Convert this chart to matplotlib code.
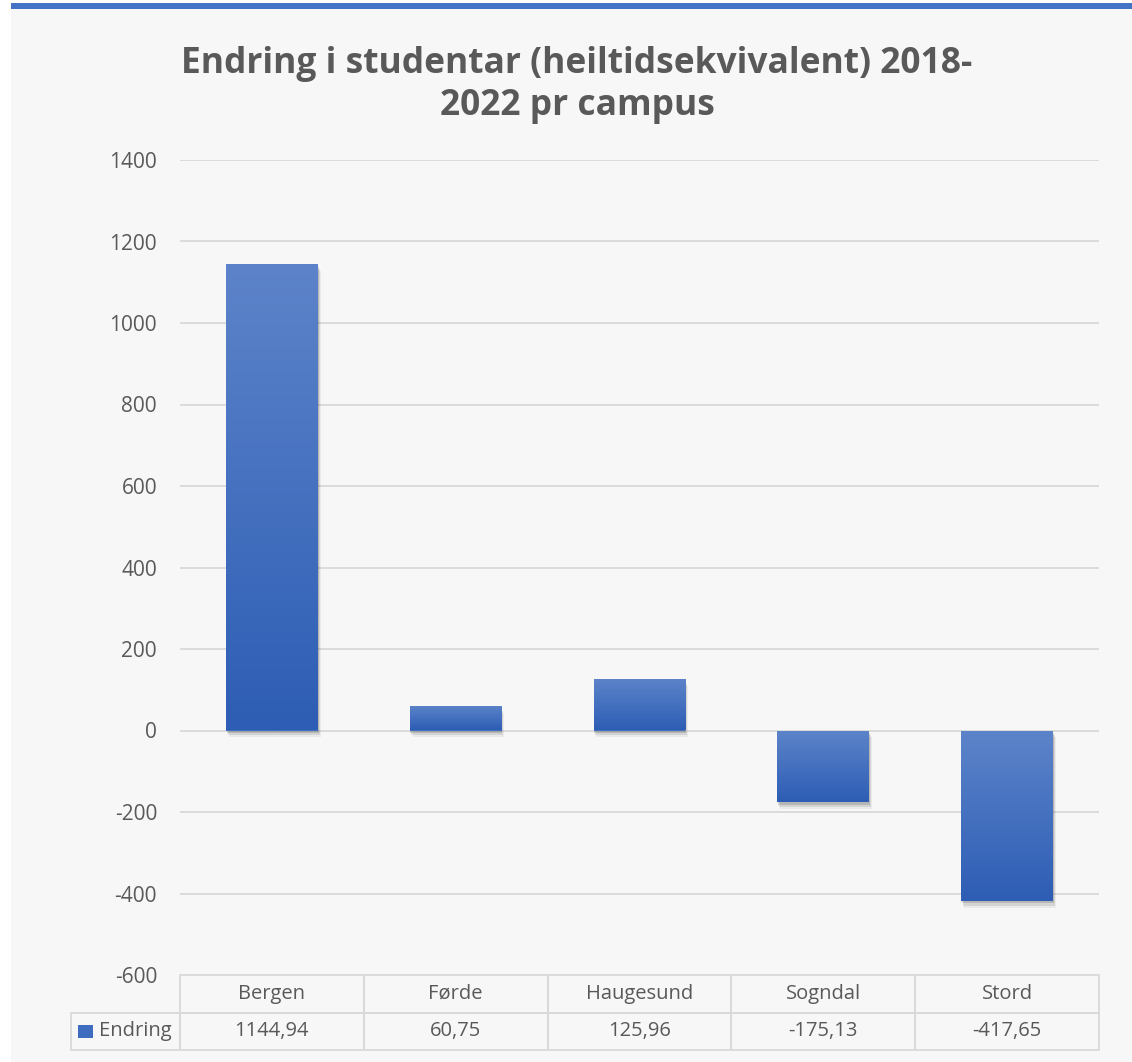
import matplotlib
matplotlib.use("Agg")
import matplotlib.pyplot as plt
import numpy as np
from matplotlib.patches import Rectangle
from matplotlib.colors import LinearSegmentedColormap
from matplotlib.transforms import blended_transform_factory
import matplotlib.patheffects as pe

categories = ["Bergen", "Førde", "Haugesund", "Sogndal", "Stord"]
values = [1144.94, 60.75, 125.96, -175.13, -417.65]
series_name = "Endring"
yticks = [-600, -400, -200, 0, 200, 400, 600, 800, 1000, 1200, 1400]
title = "Endring i studentar (heiltidsekvivalent) 2018-\n2022 pr campus"

TXT = "#595959"
GRID = "#D9D9D9"
BG = "#F7F7F7"
W, H = 1132, 1062

plt.rcParams["font.family"] = ["Open Sans", "DejaVu Sans"]

fig = plt.figure(figsize=(W / 100, H / 100), dpi=100, facecolor="white")
fig.patches.append(Rectangle((11 / W, 0), 1 - 11 / W, 1 - 9 / H, transform=fig.transFigure,
                             facecolor=BG, edgecolor="none", zorder=-10))
fig.patches.append(Rectangle((11 / W, 1 - 9 / H), 1 - 11 / W, 6 / H, transform=fig.transFigure,
                             facecolor="#4472C4", edgecolor="none", zorder=-9))

AX_L, AX_R, AX_T, AX_B = 180, 1099, 160, 975
ax = fig.add_axes([AX_L / W, 1 - AX_B / H, (AX_R - AX_L) / W, (AX_B - AX_T) / H])
ax.set_facecolor("none")
axw, axh = AX_R - AX_L, AX_B - AX_T

x = np.arange(len(categories))
bars = ax.bar(x, values, width=0.5, color="#4170C2", zorder=3)

cmap = LinearSegmentedColormap.from_list("g", ["#2D5DB4", "#5D84CA"])
grad = np.linspace(0, 1, 256).reshape(-1, 1)
for b in bars:
    bx, by = b.get_x(), b.get_y()
    bw, bh = b.get_width(), b.get_height()
    y0, y1 = min(by, by + bh), max(by, by + bh)
    b.set_path_effects([
        pe.SimplePatchShadow(offset=(2, -5), shadow_rgbFace="black", alpha=0.05),
        pe.SimplePatchShadow(offset=(1.2, -3.5), shadow_rgbFace="black", alpha=0.09),
        pe.SimplePatchShadow(offset=(0.5, -2), shadow_rgbFace="black", alpha=0.14),
        pe.Normal(),
    ])
    im = ax.imshow(grad, cmap=cmap, origin="lower", aspect="auto",
                   extent=(bx, bx + bw, y0, y1), zorder=4, interpolation="bilinear")
    im.set_clip_path(b)

ax.set_xlim(-0.5, len(categories) - 0.5)
ax.set_ylim(-600, 1400)
ax.set_yticks(yticks)
ax.set_yticklabels([str(t) for t in yticks])
ax.set_xticks([])
ax.tick_params(axis="y", length=0, pad=16.5, labelsize=15, labelcolor=TXT)
for t in yticks:
    if t != -600:
        ax.axhline(t, color=GRID, lw=1.3, zorder=1)
for s in ax.spines.values():
    s.set_visible(False)

# ---- data table under the plot ----
fmt = [f"{v:.2f}".replace(".", ",") for v in values]
row_h = 37.5 / axh
blend = blended_transform_factory(ax.transData, ax.transAxes)
tkw = dict(ha="center", va="center", fontsize=14.5, color=TXT, clip_on=False)
ckw = dict(facecolor="none", edgecolor=GRID, lw=1.3, clip_on=False)
for j, (cat, f) in enumerate(zip(categories, fmt)):
    ax.add_patch(Rectangle((j - 0.5, -row_h), 1, row_h, transform=blend, **ckw))
    ax.add_patch(Rectangle((j - 0.5, -2 * row_h), 1, row_h, transform=blend, **ckw))
    ax.text(j, -0.5 * row_h, cat, transform=blend, **tkw)
    ax.text(j, -1.5 * row_h, f, transform=blend, **tkw)
lab_w = 109 / axw
ax.add_patch(Rectangle((-lab_w, -2 * row_h), lab_w, row_h, transform=ax.transAxes, **ckw))
ax.text(-8 / axw, -1.5 * row_h, series_name, transform=ax.transAxes,
        ha="right", va="center", fontsize=14.5, color=TXT, clip_on=False)
ax.add_patch(Rectangle(((78 - AX_L) / axw, -(1038 - AX_B) / axh), 15 / axw, 13 / axh,
                       transform=ax.transAxes, facecolor="#3E6DC0", edgecolor="none",
                       clip_on=False, zorder=5))

fig.text(577 / W, 1 - 85 / H, title, ha="center", va="center", fontsize=25.5,
         fontweight="bold", color=TXT, linespacing=1.2)

fig.savefig("out.png", dpi=100, facecolor="white")
